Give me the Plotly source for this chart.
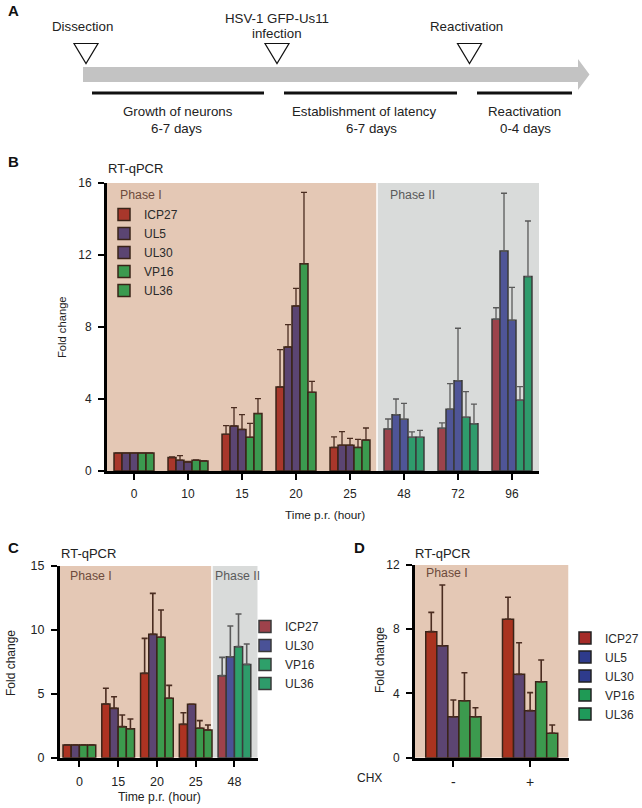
import plotly.graph_objects as go

W, H = 642, 808


def X(px):
    return px / W


def Y(py):
    return 1 - py / H


# ---------------- data ----------------
# Panel A (timeline text)
a_events = ["Dissection", "HSV-1 GFP-Us11<br>infection", "Reactivation"]
a_periods = ["Growth of neurons", "Establishment of latency", "Reactivation"]
a_durations = ["6-7 days", "6-7 days", "0-4 days"]

# Panel B
b_times = ["0", "10", "15", "20", "25", "48", "72", "96"]
b_genes = ["ICP27", "UL5", "UL30", "VP16", "UL36"]
b_icp27 = [1.0, 0.75, 2.04, 4.67, 1.31, 2.33, 2.37, 8.43]
b_ul5 = [1.0, 0.60, 2.50, 6.89, 1.43, 3.13, 3.43, 12.22]
b_ul30 = [1.0, 0.50, 2.31, 9.17, 1.43, 2.87, 5.02, 8.37]
b_vp16 = [1.0, 0.60, 1.87, 11.52, 1.31, 1.87, 2.98, 3.93]
b_ul36 = [1.0, 0.55, 3.19, 4.37, 1.72, 1.87, 2.63, 10.80]
b_icp27_err = [0.0, 0.03, 0.48, 2.07, 0.59, 0.56, 0.30, 0.64]
b_ul5_err = [0.0, 0.25, 1.02, 1.24, 0.76, 0.87, 1.42, 3.21]
b_ul30_err = [0.0, 0.03, 0.82, 0.98, 0.38, 0.89, 2.91, 1.83]
b_vp16_err = [0.0, 0.02, 0.78, 3.96, 0.45, 0.30, 1.43, 0.76]
b_ul36_err = [0.0, 0.02, 0.83, 0.61, 0.67, 0.39, 1.09, 3.09]
b_phase1_count = 5  # first five time points are Phase I

# Panel C
c_times = ["0", "15", "20", "25", "48"]
c_genes = ["ICP27", "UL30", "VP16", "UL36"]
c_icp27 = [1.0, 4.20, 6.60, 2.61, 6.42]
c_ul30 = [1.0, 3.86, 9.65, 4.18, 7.90]
c_vp16 = [1.0, 2.43, 9.42, 2.30, 8.69]
c_ul36 = [1.0, 2.27, 4.65, 2.17, 7.30]
c_icp27_err = [0.0, 1.23, 2.74, 0.91, 1.43]
c_ul30_err = [0.0, 0.91, 3.21, 0.0, 2.40]
c_vp16_err = [0.0, 0.91, 2.14, 0.60, 2.55]
c_ul36_err = [0.0, 0.76, 1.01, 0.39, 1.60]
c_phase1_count = 4

# Panel D
d_chx = ["-", "+"]
d_genes = ["ICP27", "UL5", "UL30", "VP16", "UL36"]
d_icp27 = [7.85, 8.62]
d_ul5 = [6.97, 5.19]
d_ul30 = [2.55, 2.93]
d_vp16 = [3.55, 4.73]
d_ul36 = [2.55, 1.52]
d_icp27_err = [1.20, 1.37]
d_ul5_err = [3.78, 1.97]
d_ul30_err = [1.04, 1.12]
d_vp16_err = [1.74, 1.35]
d_ul36_err = [0.56, 0.52]

# ---------------- styles ----------------
FONT = "Liberation Sans, Arial, Helvetica, sans-serif"
PEACH = "#e4c8b5"
GREY = "#d9dbda"
P1_LINE = "#3a2418"
P2_LINE = "#3a3a3a"
P1_ERR = "#4a2c20"
P2_ERR = "#5a5a5a"

b_p1_colors = ["#a8372b", "#5b4572", "#5b4572", "#3b9a4f", "#3b9a4f"]
b_p2_colors = ["#9c434b", "#4f5597", "#4f5597", "#2f9b6c", "#2f9b6c"]
c_p1_colors = ["#ad3322", "#5c4572", "#3c9a4d", "#3c9a4d"]
c_p2_colors = ["#9e424b", "#4a5297", "#2ea06a", "#2e9b6a"]
d_colors = ["#a9331f", "#5c4572", "#5c4572", "#3c9a4e", "#3c9a4e"]
d_legend_colors = ["#a52b28", "#2e3b8c", "#2e3b8c", "#1f9a55", "#1f9a5a"]

fig = go.Figure()


def add_bars(xa, ya, cats, vals, errs, color, lcolor, ecolor, offset, width,
             name, legend, showlegend, ethick=1.3):
    fig.add_trace(go.Bar(
        x=cats, y=vals, xaxis=xa, yaxis=ya, name=name, legend=legend,
        showlegend=showlegend, offset=offset, width=width,
        marker=dict(color=color, line=dict(color=lcolor, width=1.5)),
        error_y=dict(type="data", array=errs, arrayminus=[0] * len(errs),
                     symmetric=False, color=ecolor, thickness=ethick, width=3),
    ))


# Panel B bars
b_vals = [b_icp27, b_ul5, b_ul30, b_vp16, b_ul36]
b_errs = [b_icp27_err, b_ul5_err, b_ul30_err, b_vp16_err, b_ul36_err]
bw = 0.148
n = len(b_genes)
for i, g in enumerate(b_genes):
    off = -n * bw / 2 + i * bw
    k = b_phase1_count
    add_bars("x", "y", b_times[:k], b_vals[i][:k], b_errs[i][:k],
             b_p1_colors[i], P1_LINE, P1_ERR, off, bw, g, "legend", True)
    add_bars("x", "y", b_times[k:], b_vals[i][k:], b_errs[i][k:],
             b_p2_colors[i], P2_LINE, P2_ERR, off, bw, g, "legend", False)

# Panel C bars
c_vals = [c_icp27, c_ul30, c_vp16, c_ul36]
c_errs = [c_icp27_err, c_ul30_err, c_vp16_err, c_ul36_err]
cw = 0.211
n = len(c_genes)
for i, g in enumerate(c_genes):
    off = -n * cw / 2 + i * cw
    k = c_phase1_count
    add_bars("x2", "y2", c_times[:k], c_vals[i][:k], c_errs[i][:k],
             c_p1_colors[i], P1_LINE, P1_ERR, off, cw, g, "legend2", False, 1.6)
    add_bars("x2", "y2", c_times[k:], c_vals[i][k:], c_errs[i][k:],
             c_p2_colors[i], P2_LINE, P2_ERR, off, cw, g, "legend2", True, 1.6)

# Panel D bars
d_vals = [d_icp27, d_ul5, d_ul30, d_vp16, d_ul36]
d_errs = [d_icp27_err, d_ul5_err, d_ul30_err, d_vp16_err, d_ul36_err]
dw = 0.144
n = len(d_genes)
for i, g in enumerate(d_genes):
    off = -n * dw / 2 + i * dw
    add_bars("x3", "y3", d_chx, d_vals[i], d_errs[i],
             d_colors[i], P1_LINE, P1_ERR, off, dw, g, "legend3", False, 1.6)
    # legend entry only
    fig.add_trace(go.Bar(x=[None], y=[None], xaxis="x3", yaxis="y3", name=g,
                         legend="legend3", showlegend=True,
                         marker=dict(color=d_legend_colors[i],
                                     line=dict(color="#222", width=1.5))))


def axis_style(**kw):
    base = dict(showline=True, linecolor="black", linewidth=3, ticks="outside",
                ticklen=6, tickwidth=2, tickcolor="black", showgrid=False,
                zeroline=False, tickfont=dict(family=FONT, size=12, color="#222"),
                fixedrange=True, automargin=False)
    base.update(kw)
    return base


fig.update_layout(
    width=W, height=H, autosize=False,
    margin=dict(l=0, r=0, t=0, b=0, pad=0, autoexpand=False),
    paper_bgcolor="white", plot_bgcolor="white",
    barmode="overlay",
    font=dict(family=FONT, size=12, color="#222"),
    xaxis=axis_style(domain=[X(107), X(539)], anchor="y", type="category",
                     categoryorder="array", categoryarray=b_times,
                     range=[-0.5, 7.5], ticklabelstandoff=4),
    yaxis=axis_style(domain=[Y(471), Y(183)], anchor="x", range=[0, 16],
                     tickvals=[0, 4, 8, 12, 16], ticklabelstandoff=4),
    xaxis2=axis_style(domain=[X(60), X(257.7)], anchor="y2", type="category",
                      categoryorder="array", categoryarray=c_times,
                      range=[-0.5, 4.6], ticklabelstandoff=4,
                      tickfont=dict(family=FONT, size=12.5, color="#222")),
    yaxis2=axis_style(domain=[Y(757.7), Y(566)], anchor="x2", range=[0, 15],
                      tickvals=[0, 5, 10, 15], ticklabelstandoff=4,
                      tickfont=dict(family=FONT, size=12.5, color="#222")),
    xaxis3=axis_style(domain=[X(415), X(568.5)], anchor="y3", type="category",
                      categoryorder="array", categoryarray=d_chx,
                      range=[-0.5, 1.5], ticklabelstandoff=3,
                      tickfont=dict(family=FONT, size=14, color="#222")),
    yaxis3=axis_style(domain=[Y(757.7), Y(565)], anchor="x3", range=[0, 12],
                      tickvals=[0, 4, 8, 12], ticklabelstandoff=4),
    legend=dict(x=X(104), y=Y(200), xanchor="left", yanchor="top",
                bgcolor="rgba(0,0,0,0)", font=dict(family=FONT, size=12, color="#2a2a2a")),
    legend2=dict(x=X(245), y=Y(655), xanchor="left", yanchor="middle",
                 bgcolor="rgba(0,0,0,0)", font=dict(family=FONT, size=12, color="#2a2a2a")),
    legend3=dict(x=X(565), y=Y(676), xanchor="left", yanchor="middle",
                 bgcolor="rgba(0,0,0,0)", font=dict(family=FONT, size=12, color="#2a2a2a")),
)

shapes = []
# Phase backgrounds
shapes += [
    dict(type="rect", xref="x", yref="y", x0=-0.5, x1=4.5, y0=0, y1=16,
         fillcolor=PEACH, line=dict(width=0), layer="below"),
    dict(type="rect", xref="x", yref="y", x0=4.5, x1=7.5, y0=0, y1=16,
         fillcolor=GREY, line=dict(width=0), layer="below"),
    dict(type="line", xref="x", yref="y", x0=4.5, x1=4.5, y0=0, y1=16,
         line=dict(color="white", width=1.5), layer="below"),
    dict(type="rect", xref="x2", yref="y2", x0=-0.5, x1=3.42, y0=0, y1=15,
         fillcolor=PEACH, line=dict(width=0), layer="below"),
    dict(type="rect", xref="x2", yref="y2", x0=3.42, x1=4.6, y0=0, y1=15,
         fillcolor=GREY, line=dict(width=0), layer="below"),
    dict(type="line", xref="x2", yref="y2", x0=3.42, x1=3.42, y0=0, y1=15,
         line=dict(color="white", width=1.5), layer="below"),
    dict(type="rect", xref="x3", yref="y3", x0=-0.5, x1=1.5, y0=0, y1=12,
         fillcolor=PEACH, line=dict(width=0), layer="below"),
]

# Panel A: timeline arrow
arrow_pts = [(83, 67), (578, 67), (578, 59), (589.5, 74.5), (578, 90), (578, 82), (83, 82)]
path = "M" + " L".join(f"{X(px):.5f},{Y(py):.5f}" for px, py in arrow_pts) + " Z"
shapes.append(dict(type="path", xref="paper", yref="paper", path=path,
                   fillcolor="#c3c3c3", line=dict(width=0)))
# event triangles
tri_x = [86, 277, 469.5]
for cx in tri_x:
    pts = [(cx - 12, 43.5), (cx + 12, 43.5), (cx, 63.5)]
    p = "M" + " L".join(f"{X(px):.5f},{Y(py):.5f}" for px, py in pts) + " Z"
    shapes.append(dict(type="path", xref="paper", yref="paper", path=p,
                       fillcolor="white", line=dict(color="#111", width=1.2)))
# period lines
period_spans = [(92, 264), (284, 457), (477, 572)]
for x0, x1 in period_spans:
    shapes.append(dict(type="line", xref="paper", yref="paper", x0=X(x0), x1=X(x1),
                       y0=Y(93), y1=Y(93), line=dict(color="#111", width=3)))
fig.update_layout(shapes=shapes)

ann = []


def txt(text, px, py, size=12, color="#222", xanchor="center", bold=False, angle=0):
    if bold:
        text = f"<b>{text}</b>"
    ann.append(dict(text=text, x=X(px), y=Y(py), xref="paper", yref="paper",
                    xanchor=xanchor, yanchor="middle", showarrow=False,
                    textangle=angle,
                    font=dict(family=FONT, size=size, color=color)))


# Panel A texts
A_SIZE = 13.3
txt("A", 13, 10, 15, "#111", bold=True)
event_x = [83, 277, 466]
for t, px in zip(a_events, event_x):
    lines = t.split("<br>")
    if len(lines) == 1:
        txt(lines[0], px, 26, A_SIZE)
    else:
        txt(lines[0], px, 18, A_SIZE)
        txt(lines[1], px, 33.5, A_SIZE)
period_x = [178, 364, 524]
duration_x = [177, 372, 525]
for t, px in zip(a_periods, period_x):
    txt(t, px, 111, A_SIZE)
for t, px in zip(a_durations, duration_x):
    txt(t, px, 128, A_SIZE)

# Panel B texts
txt("B", 13, 162, 15, "#111", bold=True)
txt("RT-qPCR", 106, 169, 13, xanchor="left")
txt("Phase I", 118, 195, 12.3, "#6d4b3c", xanchor="left")
txt("Phase II", 388, 195, 12.3, "#5a5a5a", xanchor="left")
txt("Fold change", 62, 327, 11.2, angle=-90)
txt("Time p.r. (hour)", 325, 515, 11.8)

# Panel C texts
txt("C", 13, 547, 15, "#111", bold=True)
txt("RT-qPCR", 59, 553, 13, xanchor="left")
txt("Phase I", 68, 576, 12.3, "#6d4b3c", xanchor="left")
txt("Phase II", 213, 576, 12.3, "#5a5a5a", xanchor="left")
txt("Fold change", 11, 663, 12, angle=-90)
txt("Time p.r. (hour)", 159, 797, 12.2)

# Panel D texts
txt("D", 359, 547, 15, "#111", bold=True)
txt("RT-qPCR", 413, 553, 13, xanchor="left")
txt("Phase I", 424, 573, 12.3, "#6d4b3c", xanchor="left")
txt("Fold change", 380, 660, 12, angle=-90)
txt("CHX", 370, 778, 12)

fig.update_layout(annotations=ann)

# remove the browser's default 8px body margin so the figure sits at (0, 0)
fig.write_html("out.html", config={"displayModeBar": False},
               post_script="document.body.style.margin='0';")
